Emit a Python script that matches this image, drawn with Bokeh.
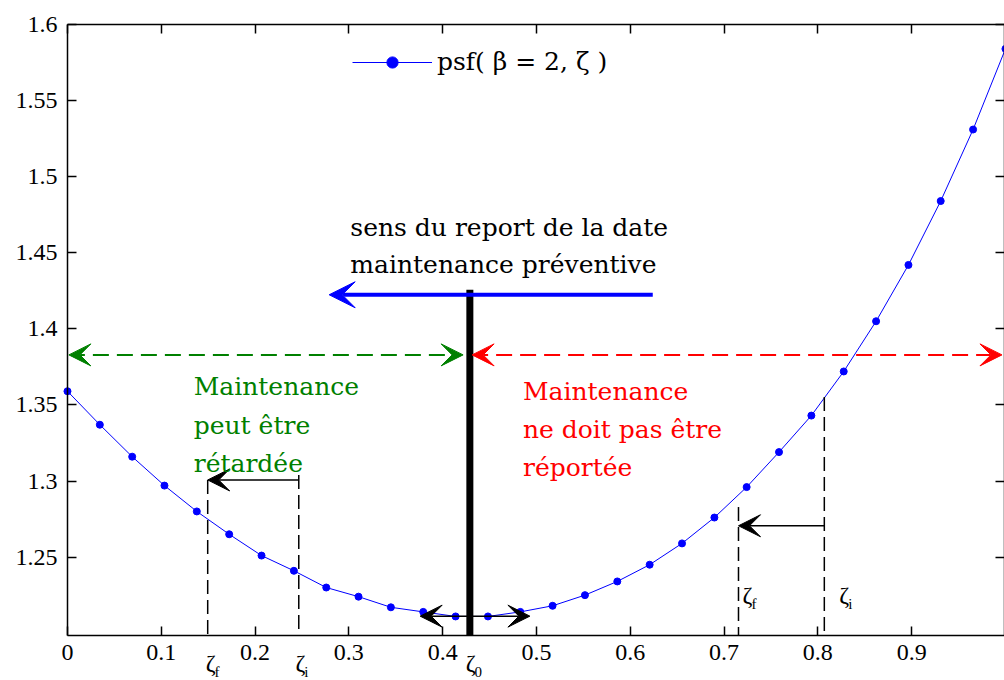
from bokeh.plotting import figure
from bokeh.models import Range1d, FixedTicker, LinearAxis, Arrow, VeeHead, Label, CustomLabelingPolicy
from bokeh.embed import file_html
from bokeh.resources import INLINE

# ---- data ----
zeta = [0.0, 0.0345, 0.069, 0.1034, 0.1379, 0.1724, 0.2069, 0.2414, 0.2759, 0.3103,
        0.3448, 0.3793, 0.4138, 0.4483, 0.4828, 0.5172, 0.5517, 0.5862, 0.6207, 0.6552,
        0.6897, 0.7241, 0.7586, 0.7931, 0.8276, 0.8621, 0.8966, 0.931, 0.9655, 1.0]
psf = [1.359, 1.337, 1.316, 1.297, 1.280, 1.265, 1.251, 1.241, 1.230, 1.224,
       1.217, 1.214, 1.211, 1.211, 1.214, 1.218, 1.225, 1.234, 1.245, 1.259,
       1.276, 1.296, 1.319, 1.343, 1.372, 1.405, 1.442, 1.484, 1.531, 1.584]
series_label = "psf( \u03b2 = 2, \u03b6 )"

x_ticks = [0, 0.1, 0.2, 0.3, 0.4, 0.5, 0.6, 0.7, 0.8, 0.9, 1.0]
x_tick_labels = ["0", "0.1", "0.2", "0.3", "0.4", "0.5", "0.6", "0.7", "0.8", "0.9", "1"]
y_ticks = [1.25, 1.3, 1.35, 1.4, 1.45, 1.5, 1.55, 1.6]
y_tick_labels = ["1.25", "1.3", "1.35", "1.4", "1.45", "1.5", "1.55", "1.6"]

zeta0 = 0.429          # optimum date
zeta_left = (0.1495, 0.2466)   # (zeta_f, zeta_i) left example
zeta_right = (0.7154, 0.8069)  # (zeta_f, zeta_i) right example

SERIF = "DejaVu Serif"
TICKF = "Liberation Serif"
GREEN = "#008000"
RED = "#ff0000"

# axes box (data) and the surrounding room kept for labels
XMIN, XMAX = 0.0, 1.0
YMIN, YMAX = 1.1985, 1.6
XLOW, XHIGH = -0.0714, 0.999
YLOW, YHIGH = 1.1689, 1.6158

p = figure(width=1004, height=680, x_range=Range1d(XLOW, XHIGH), y_range=Range1d(YLOW, YHIGH),
           output_backend="svg", toolbar_location=None,
           min_border_left=0, min_border_right=0, min_border_top=0, min_border_bottom=0)
p.outline_line_color = None
p.xgrid.visible = False
p.ygrid.visible = False
p.background_fill_color = "white"
p.border_fill_color = "white"

no_labels = CustomLabelingPolicy(code="for (const i of indices) { indices.unset(i) }")

def style_axis(ax, show_labels=True):
    ax.major_tick_in = 9
    ax.major_tick_out = 0
    ax.minor_tick_line_color = None
    ax.axis_line_width = 1.5
    ax.axis_line_color = "black"
    ax.major_tick_line_width = 1.5
    ax.major_tick_line_color = "black"
    if show_labels:
        ax.major_label_text_font = TICKF
        ax.major_label_text_font_size = "24px"
        ax.major_label_text_color = "black"
        ax.major_label_standoff = 10
    else:
        ax.major_label_policy = no_labels
        ax.major_label_text_font_size = "2px"
        ax.major_label_text_alpha = 0
        ax.major_label_standoff = 0

xa = p.xaxis[0]
xa.ticker = FixedTicker(ticks=x_ticks)
xa.major_label_overrides = dict(zip(x_ticks, x_tick_labels))
xa.fixed_location = YMIN
xa.bounds = (XMIN, XMAX)
style_axis(xa)
ya = p.yaxis[0]
ya.ticker = FixedTicker(ticks=y_ticks)
ya.major_label_overrides = dict(zip(y_ticks, y_tick_labels))
ya.fixed_location = XMIN
ya.bounds = (YMIN, YMAX)
style_axis(ya)

top = LinearAxis(ticker=FixedTicker(ticks=x_ticks), fixed_location=YMAX, bounds=(XMIN, XMAX))
style_axis(top, False)
p.add_layout(top, "above")
right = LinearAxis(ticker=FixedTicker(ticks=y_ticks), fixed_location=0.9985, bounds=(YMIN, YMAX))
style_axis(right, False)
p.add_layout(right, "right")

# ---- curve ----
p.line(zeta, psf, line_color="blue", line_width=1, legend_label=series_label)
p.scatter(zeta, psf, marker="circle", size=7, color="blue", legend_label=series_label)

leg = p.legend[0]
leg.location = (352, 604)
leg.border_line_alpha = 0
leg.background_fill_alpha = 0
leg.padding = 0
leg.margin = 0
leg.glyph_width = 80
leg.glyph_height = 28
leg.label_standoff = 5
leg.label_text_font = SERIF
leg.label_text_font_size = "25px"
leg.label_text_color = "black"

# ---- ζ0 vertical bar and direction arrow ----
p.segment(x0=[zeta0], y0=[YMIN], x1=[zeta0], y1=[1.4257], line_color="black", line_width=7)
p.add_layout(Arrow(end=VeeHead(size=26, fill_color="blue", line_color="blue", line_width=1),
                   x_start=0.624, y_start=1.4224, x_end=0.279, y_end=1.4224,
                   line_color="blue", line_width=4))

# dashed double arrows
p.add_layout(Arrow(start=VeeHead(size=22, fill_color=GREEN, line_color=GREEN, line_width=1),
                   end=VeeHead(size=22, fill_color=GREEN, line_color=GREEN, line_width=1),
                   x_start=0.0015, y_start=1.3829, x_end=0.4218, y_end=1.3829,
                   line_color=GREEN, line_width=2, line_dash="16 8"))
p.add_layout(Arrow(start=VeeHead(size=22, fill_color=RED, line_color=RED, line_width=1),
                   end=VeeHead(size=22, fill_color=RED, line_color=RED, line_width=1),
                   x_start=0.4314, y_start=1.3829, x_end=0.9963, y_end=1.3829,
                   line_color=RED, line_width=2, line_dash="16 8"))

# small double arrow near the minimum
p.add_layout(Arrow(start=VeeHead(size=22, fill_color="black", line_color="black", line_width=1),
                   end=VeeHead(size=22, fill_color="black", line_color="black", line_width=1),
                   x_start=0.376, y_start=1.2112, x_end=0.493, y_end=1.2112,
                   line_color="black", line_width=1.5))

# left example: zeta_i -> zeta_f
zf, zi = zeta_left
p.segment(x0=[zf, zi], y0=[1.3007, 1.3040], x1=[zf, zi], y1=[YMIN, YMIN],
          line_color="black", line_width=1.5, line_dash="14 6")
p.add_layout(Arrow(end=VeeHead(size=22, fill_color="black", line_color="black", line_width=1),
                   x_start=zi, y_start=1.3007, x_end=zf, y_end=1.3007,
                   line_color="black", line_width=1.5))
# right example
zf2, zi2 = zeta_right
p.segment(x0=[zf2, zi2], y0=[1.2829, 1.3553], x1=[zf2, zi2], y1=[YMIN, YMIN],
          line_color="black", line_width=1.5, line_dash="14 6")
p.add_layout(Arrow(end=VeeHead(size=22, fill_color="black", line_color="black", line_width=1),
                   x_start=zi2, y_start=1.2706, x_end=zf2, y_end=1.2706,
                   line_color="black", line_width=1.5))

# ---- texts ----
def lab(x, y, text, color="black", size="25px", font=SERIF):
    p.add_layout(Label(x=x, y=y, text=text, text_color=color, text_font=font,
                       text_font_size=size, text_baseline="alphabetic", text_align="left"))

lab(0.3016, 1.4664, "sens du report de la date")
lab(0.3016, 1.4421, "maintenance préventive")
for yy, t in zip([1.3618, 1.3368, 1.3118], ["Maintenance", "peut être", "rétardée"]):
    lab(0.1346, yy, t, GREEN)
for yy, t in zip([1.3586, 1.3336, 1.3092], ["Maintenance", "ne doit pas être", "réportée"]):
    lab(0.4856, yy, t, RED)

# zeta symbols with subscripts
def zlab(x, y, sub):
    lab(x, y, "\u03b6", size="24px", font=TICKF)
    lab(x + 0.0095, y - 0.0055, sub, size="15px", font=TICKF)

zlab(0.1473, 1.1803, "f")
zlab(0.2430, 1.1803, "i")
zlab(0.4245, 1.1803, "0")
zlab(0.7197, 1.2250, "f")
zlab(0.8229, 1.2250, "i")

open("out.html", "w").write(file_html(p, INLINE))
